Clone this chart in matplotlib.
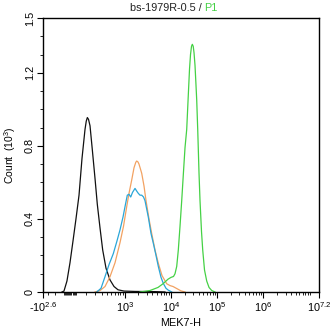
import numpy as np
import matplotlib
matplotlib.use("Agg")
import matplotlib.pyplot as plt

plt.rcParams["font.family"] = ["Liberation Sans", "DejaVu Sans"]
plt.rcParams["mathtext.fontset"] = "custom"
plt.rcParams["mathtext.rm"] = "Liberation Sans"
plt.rcParams["mathtext.it"] = "Liberation Sans"

# histogram outlines: MEK7-H intensity vs count (x 1000)
black_x = [-117, -97, -69, -42, -16, 9, 35, 61, 89, 101, 112, 124, 140, 166,
           200, 231, 272, 317, 381, 472, 582, 715, 969, 1683, 4561, 7499]
black_y = [0, 0.005, 0.06, 0.16, 0.28, 0.40, 0.53, 0.73, 0.89, 0.935, 0.955,
           0.945, 0.91, 0.78, 0.62, 0.48, 0.35, 0.23, 0.13, 0.066, 0.03,
           0.012, 0.005, 0.003, 0.002, 0]

orange_x = [200, 272, 361, 472, 613, 791, 945, 1110, 1246, 1427, 1601, 1750,
            1832, 1950, 2055, 2351, 2637, 2914, 3383, 3869, 4561, 5375, 6461,
            8162, 9618, 11167, 13626, 16618, 20273]
orange_y = [0, 0.008, 0.03, 0.084, 0.16, 0.27, 0.36, 0.467, 0.54, 0.613, 0.68,
            0.71, 0.717, 0.712, 0.70, 0.65, 0.58, 0.50, 0.40, 0.32, 0.23,
            0.157, 0.09, 0.045, 0.035, 0.03, 0.018, 0.006, 0]

blue_x = [223, 288, 361, 448, 561, 679, 791, 921, 1019, 1144, 1246, 1357,
          1485, 1683, 1860, 1985, 2160, 2351, 2572, 2771, 3267, 3738, 4190,
          4794, 5375, 6148, 6892, 7883, 8838, 10467]
blue_y = [0, 0.02, 0.084, 0.15, 0.21, 0.28, 0.34, 0.41, 0.467, 0.53, 0.535,
          0.52, 0.545, 0.567, 0.55, 0.54, 0.53, 0.53, 0.52, 0.50, 0.41, 0.32,
          0.267, 0.20, 0.14, 0.08, 0.047, 0.02, 0.01, 0]

green_x = [2160, 3556, 5296, 6790, 8707, 10110, 11448, 12333, 13422, 14533,
           15814, 17208, 18819, 20273, 22066, 23894, 25364, 26656, 28016,
           29155, 30490, 31731, 33346, 35046, 36287, 38140, 40681, 42755,
           46062, 48901, 53482, 59670, 66887, 76500, 90185]
green_y = [0, 0.008, 0.025, 0.045, 0.07, 0.08, 0.085, 0.10, 0.14, 0.23, 0.36,
           0.50, 0.66, 0.79, 0.89, 1.08, 1.22, 1.30, 1.345, 1.356, 1.345,
           1.31, 1.24, 1.13, 1.05, 0.89, 0.65, 0.50, 0.33, 0.23, 0.12, 0.06,
           0.025, 0.008, 0]

x_ticks = [-10 ** 2.6, 1e3, 1e4, 1e5, 1e6, 10 ** 7.2]
x_labels = [r"-$10^{2.6}$", r"$10^{3}$", r"$10^{4}$", r"$10^{5}$",
            r"$10^{6}$", r"$10^{7.2}$"]
y_ticks = [0, 0.4, 0.8, 1.2, 1.5]
y_labels = ["0", "0.4", "0.8", "1.2", "1.5"]

# biexponential-like display scale
W = 170.0
def fwd(v):
    return np.arcsinh(np.asarray(v, dtype=float) / W)
def inv(t):
    return W * np.sinh(t)

fig = plt.figure(figsize=(3.32, 3.35), dpi=100)
ax = fig.add_axes([0.1295, 0.1284, 0.8313, 0.8179])
ax.set_xscale("function", functions=(fwd, inv))

ax.plot(black_x, black_y, color="#111111", lw=0.9)
ax.plot(orange_x, orange_y, color="#f2a262", lw=0.9)
ax.plot(blue_x, blue_y, color="#2aa6d8", lw=0.9)
ax.plot(green_x, green_y, color="#45d145", lw=0.9)

ax.set_xlim(-10 ** 2.6, 10 ** 7.2)
ax.set_ylim(0, 1.5)

minor_x = list(range(-300, -100, 100)) + list(range(-100, 20, 10))
minor_x += list(range(100, 1000, 100))
for d in [1e3, 1e4, 1e5, 1e6]:
    minor_x += [k * d for k in range(2, 10)]
minor_x += [1e7]
ax.set_xticks(x_ticks)
ax.set_xticklabels(x_labels)
ax.set_xticks(minor_x, minor=True)

ax.set_yticks(y_ticks)
ax.set_yticklabels(y_labels, rotation=90, va="center")
ax.set_yticks(np.arange(0.1, 1.5, 0.1), minor=True)

ax.tick_params(which="major", direction="out", length=4, width=0.8,
               labelsize=7.8, pad=2)
ax.tick_params(which="minor", direction="out", length=2.5, width=0.6)
for s in ax.spines.values():
    s.set_linewidth(1.0)

ax.set_xlabel("MEK7-H", fontsize=7.8, labelpad=3)
ax.set_ylabel("Count  (10$^{3}$)", fontsize=7.5, labelpad=5)

ax.text(0.585, 1.035, "bs-1979R-0.5 / ", transform=ax.transAxes,
        ha="right", va="center", fontsize=7.8, color="#222222")
ax.text(0.585, 1.035, "P1", transform=ax.transAxes,
        ha="left", va="center", fontsize=7.8, color="#45d145")

fig.savefig("out.png", dpi=100)
